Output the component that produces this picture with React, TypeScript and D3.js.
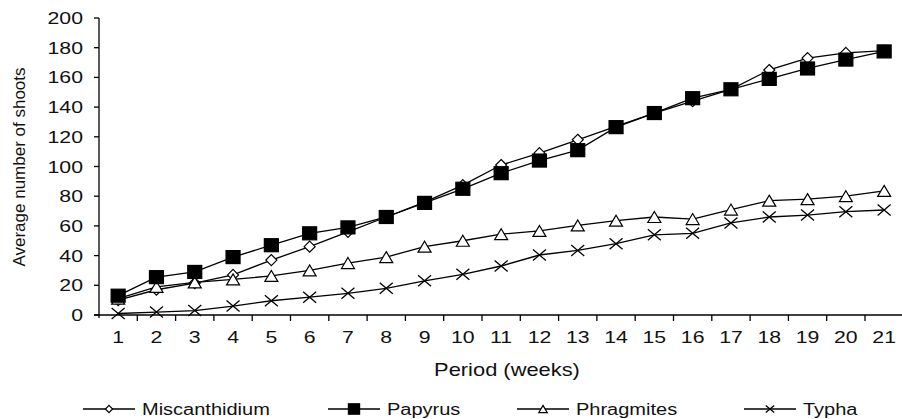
import React from "react";
import * as d3 from "d3";

const periods = d3.range(1, 22).map(String);
const miscanthidium = [10, 17, 21.5, 27, 37, 46, 56, 66, 76, 87.5, 101, 109, 118, 127, 136, 144, 152, 165, 173, 176.5, 178];
const papyrus = [13, 25.5, 29, 39, 47, 55, 59, 66, 75.5, 85, 95.5, 104, 111, 126.5, 136, 146, 152, 159, 166, 172, 177.5];
const phragmites = [11, 19, 22, 24, 26.3, 30, 35, 39, 46, 50, 54.4, 56.6, 60.3, 63.5, 66, 64.6, 71, 77, 78, 80, 83.6];
const typha = [1, 2, 3, 6, 9.6, 12, 14.6, 18, 23, 27.4, 33, 40.4, 43.5, 48, 54, 55, 62, 66, 67.3, 69.6, 70.7];
const yTicks = [0, 20, 40, 60, 80, 100, 120, 140, 160, 180, 200];

type Kind = "diamond" | "square" | "triangle" | "cross";
const seriesList: { name: string; values: number[]; kind: Kind }[] = [
  { name: "Miscanthidium", values: miscanthidium, kind: "diamond" },
  { name: "Phragmites", values: phragmites, kind: "triangle" },
  { name: "Typha", values: typha, kind: "cross" },
  { name: "Papyrus", values: papyrus, kind: "square" },
];
const legendOrder = ["Miscanthidium", "Papyrus", "Phragmites", "Typha"];
const legendX = [83, 328, 517, 744];

const FONT = "'Liberation Sans', Arial, Helvetica, sans-serif";
const SX = 1.25;

function Marker({ kind, x, y, s = 1 }: { kind: Kind; x: number; y: number; s?: number }) {
  const sw = 1.2;
  if (kind === "square") {
    return <rect x={x - 7 * s} y={y - 6.5 * s} width={14 * s} height={13 * s} fill="#000" stroke="#000" strokeWidth={sw} />;
  }
  if (kind === "diamond") {
    const w = 5.5 * s, h = 5.5 * s;
    return <path d={`M${x},${y - h}L${x + w},${y}L${x},${y + h}L${x - w},${y}Z`} fill="#fff" stroke="#000" strokeWidth={sw} />;
  }
  if (kind === "triangle") {
    const w = 6.5 * s, h = 5.5 * s;
    return <path d={`M${x},${y - h}L${x + w},${y + h}L${x - w},${y + h}Z`} fill="#fff" stroke="#000" strokeWidth={sw} />;
  }
  const w = 6.5 * s, h = 5.5 * s;
  return <path d={`M${x - w},${y - h}L${x + w},${y + h}M${x - w},${y + h}L${x + w},${y - h}`} fill="none" stroke="#000" strokeWidth={1.3} />;
}

function SText({ x, y, anchor = "start", size = 17, children }: any) {
  return (
    <text transform={`translate(${x},${y}) scale(${SX},1)`} textAnchor={anchor} fontFamily={FONT} fontSize={size} fill="#111">
      {children}
    </text>
  );
}

export default function App() {
  const left = 99, bandW = 38.3;
  const x = d3.scaleBand().domain(periods).range([left, left + bandW * periods.length]);
  const y = d3.scaleLinear().domain([0, 200]).range([315, 18]);
  const cx = (p: string) => (x(p) as number) + x.bandwidth() / 2;
  const line = d3.line<number>().x((_, i) => cx(periods[i])).y((v) => y(v));

  return (
    <svg width={902} height={419} style={{ position: "absolute", left: 0, top: 0, background: "#fff" }}>
      {/* Y axis */}
      <line x1={left} x2={left} y1={y(200)} y2={y(0) + 3} stroke="#000" strokeWidth={1.3} />
      {yTicks.map((t) => (
        <g key={t}>
          <line x1={left - 5} x2={left} y1={y(t)} y2={y(t)} stroke="#000" strokeWidth={1.3} />
          <SText x={83} y={y(t) + 6} anchor="end">{t}</SText>
        </g>
      ))}
      {/* X axis */}
      <line x1={left - 5} x2={902} y1={y(0)} y2={y(0)} stroke="#000" strokeWidth={1.3} />
      {periods.slice(1).map((p) => (
        <line key={p} x1={x(p)} x2={x(p)} y1={y(0)} y2={y(0) + 6} stroke="#000" strokeWidth={1.3} />
      ))}
      {periods.map((p) => (
        <SText key={p} x={cx(p)} y={343} anchor="middle">{p}</SText>
      ))}
      <SText x={507} y={376} anchor="middle" size={17.5}>Period (weeks)</SText>
      <text transform={`translate(25,167) rotate(-90)`} textAnchor="middle" fontFamily={FONT} fontSize={17} fill="#111">
        Average number of shoots
      </text>

      {seriesList.map((s) => (
        <g key={s.name}>
          <path d={line(s.values) || ""} fill="none" stroke="#000" strokeWidth={1.3} />
          {s.values.map((v, i) => (
            <Marker key={i} kind={s.kind} x={cx(periods[i])} y={y(v)} />
          ))}
        </g>
      ))}

      {legendOrder.map((name, i) => {
        const s = seriesList.find((d) => d.name === name)!;
        const lx = legendX[i];
        const ly = 409;
        return (
          <g key={name}>
            <line x1={lx} x2={lx + 52} y1={ly} y2={ly} stroke="#000" strokeWidth={1.3} />
            <Marker kind={s.kind} x={lx + 26} y={ly} s={s.kind === "square" ? 0.8 : 0.65} />
            <SText x={lx + 59} y={ly + 6} size={16}>{name}</SText>
          </g>
        );
      })}
    </svg>
  );
}
